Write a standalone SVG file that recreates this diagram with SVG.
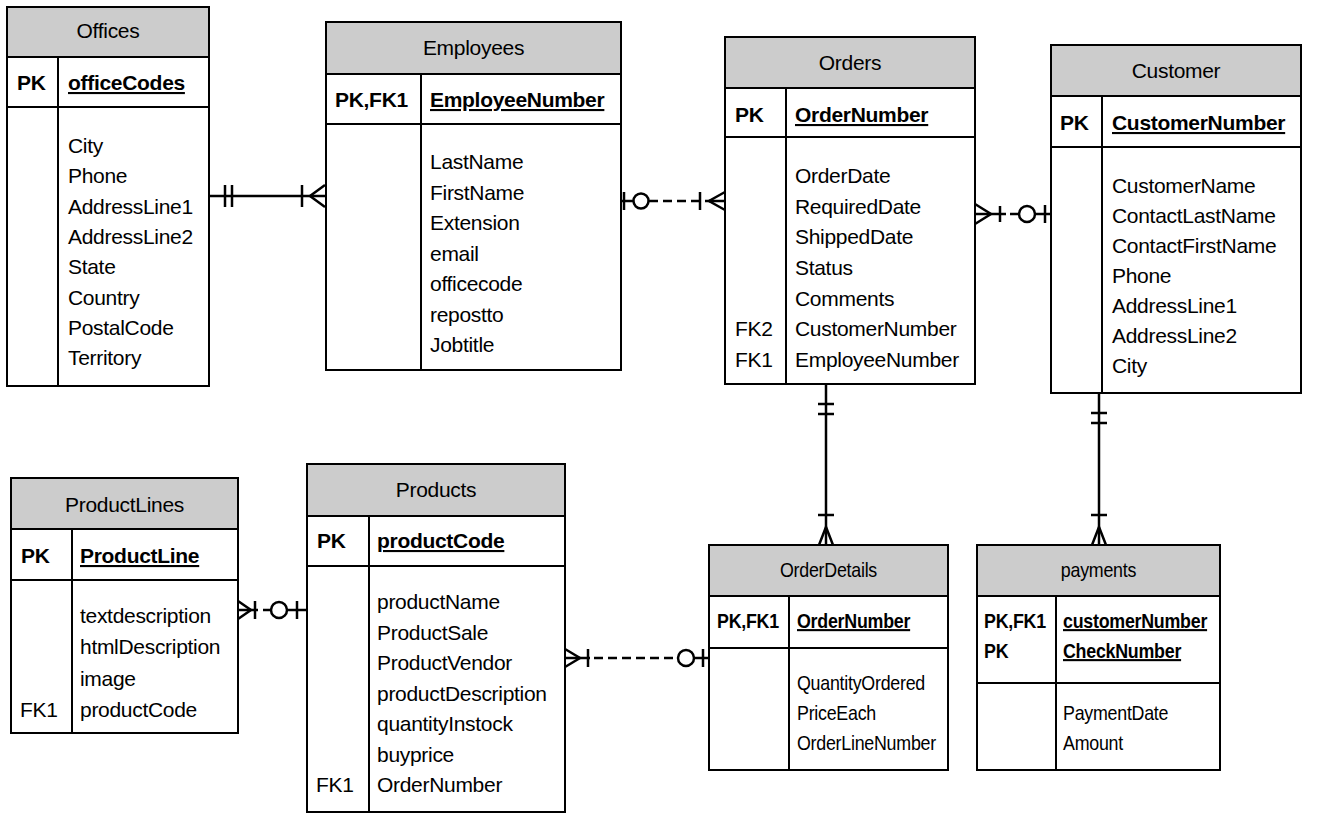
<svg xmlns="http://www.w3.org/2000/svg" width="1322" height="813" viewBox="0 0 1322 813">
  <style>
    text { font-family: "Liberation Sans", Arial, sans-serif; font-size: 21px; fill: #000; letter-spacing: -0.3px; }
    .title { text-anchor: middle; }
    .key { font-weight: bold; }
    .pk { font-weight: bold; text-decoration: underline; }
    .box { fill: #fff; stroke: #000; stroke-width: 2; }
    .hdr { fill: #cccccc; stroke: #000; stroke-width: 2; }
    .sep { stroke: #000; stroke-width: 2; fill: none; }
    .rel { stroke: #000; stroke-width: 2.5; fill: none; }
    .dash { stroke-dasharray: 9 5; }
    .ring { stroke: #000; stroke-width: 2.5; fill: #fff; }
  </style>

  <rect x="0" y="0" width="1322" height="813" fill="#fff"/>

  <!-- Offices -->
  <g id="offices">
    <rect class="box" x="7" y="7" width="202" height="379"/>
    <rect class="hdr" x="7" y="7" width="202" height="50"/>
    <line class="sep" x1="7" y1="107" x2="209" y2="107"/>
    <line class="sep" x1="58" y1="57" x2="58" y2="386"/>
    <text class="title" x="108" y="38">Offices</text>
    <text class="key" x="17" y="90">PK</text>
    <text class="pk" x="68" y="90">officeCodes</text>
    <text x="68" y="153">City</text>
    <text x="68" y="183.3">Phone</text>
    <text x="68" y="213.6">AddressLine1</text>
    <text x="68" y="243.9">AddressLine2</text>
    <text x="68" y="274.2">State</text>
    <text x="68" y="304.5">Country</text>
    <text x="68" y="334.8">PostalCode</text>
    <text x="68" y="365">Territory</text>
  </g>

  <!-- Employees -->
  <g id="employees">
    <rect class="box" x="326" y="22" width="295" height="348"/>
    <rect class="hdr" x="326" y="22" width="295" height="52"/>
    <line class="sep" x1="326" y1="124" x2="621" y2="124"/>
    <line class="sep" x1="421" y1="74" x2="421" y2="370"/>
    <text class="title" x="473.5" y="55">Employees</text>
    <text class="key" x="335" y="107">PK,FK1</text>
    <text class="pk" x="430" y="107">EmployeeNumber</text>
    <text x="430" y="169">LastName</text>
    <text x="430" y="199.5">FirstName</text>
    <text x="430" y="230">Extension</text>
    <text x="430" y="260.5">email</text>
    <text x="430" y="291">officecode</text>
    <text x="430" y="321.5">repostto</text>
    <text x="430" y="352">Jobtitle</text>
  </g>

  <!-- Orders -->
  <g id="orders">
    <rect class="box" x="725" y="37" width="250" height="347"/>
    <rect class="hdr" x="725" y="37" width="250" height="51"/>
    <line class="sep" x1="725" y1="137" x2="975" y2="137"/>
    <line class="sep" x1="786" y1="88" x2="786" y2="384"/>
    <text class="title" x="850" y="70">Orders</text>
    <text class="key" x="735" y="122">PK</text>
    <text class="pk" x="795" y="122">OrderNumber</text>
    <text x="795" y="183">OrderDate</text>
    <text x="795" y="213.7">RequiredDate</text>
    <text x="795" y="244.3">ShippedDate</text>
    <text x="795" y="275">Status</text>
    <text x="795" y="305.7">Comments</text>
    <text x="735" y="336.3">FK2</text>
    <text x="795" y="336.3">CustomerNumber</text>
    <text x="735" y="367">FK1</text>
    <text x="795" y="367">EmployeeNumber</text>
  </g>

  <!-- Customer -->
  <g id="customer">
    <rect class="box" x="1051" y="45" width="250" height="348"/>
    <rect class="hdr" x="1051" y="45" width="250" height="51"/>
    <line class="sep" x1="1051" y1="147" x2="1301" y2="147"/>
    <line class="sep" x1="1102" y1="96" x2="1102" y2="393"/>
    <text class="title" x="1176" y="78">Customer</text>
    <text class="key" x="1060" y="130">PK</text>
    <text class="pk" x="1112" y="130">CustomerNumber</text>
    <text x="1112" y="193">CustomerName</text>
    <text x="1112" y="223">ContactLastName</text>
    <text x="1112" y="253">ContactFirstName</text>
    <text x="1112" y="283">Phone</text>
    <text x="1112" y="313">AddressLine1</text>
    <text x="1112" y="343">AddressLine2</text>
    <text x="1112" y="373">City</text>
  </g>

  <!-- ProductLines -->
  <g id="productlines">
    <rect class="box" x="11" y="478" width="227" height="255"/>
    <rect class="hdr" x="11" y="478" width="227" height="51"/>
    <line class="sep" x1="11" y1="580" x2="238" y2="580"/>
    <line class="sep" x1="72" y1="529" x2="72" y2="733"/>
    <text class="title" x="124.5" y="512">ProductLines</text>
    <text class="key" x="21" y="563">PK</text>
    <text class="pk" x="80" y="563">ProductLine</text>
    <text x="80" y="623">textdescription</text>
    <text x="80" y="654">htmlDescription</text>
    <text x="80" y="686">image</text>
    <text x="20" y="717">FK1</text>
    <text x="80" y="717">productCode</text>
  </g>

  <!-- Products -->
  <g id="products">
    <rect class="box" x="307" y="464" width="258" height="348"/>
    <rect class="hdr" x="307" y="464" width="258" height="52"/>
    <line class="sep" x1="307" y1="566" x2="565" y2="566"/>
    <line class="sep" x1="369" y1="516" x2="369" y2="812"/>
    <text class="title" x="436" y="497">Products</text>
    <text class="key" x="317" y="548">PK</text>
    <text class="pk" x="377" y="548">productCode</text>
    <text x="377" y="609">productName</text>
    <text x="377" y="639.5">ProductSale</text>
    <text x="377" y="670">ProductVendor</text>
    <text x="377" y="700.5">productDescription</text>
    <text x="377" y="731">quantityInstock</text>
    <text x="377" y="761.5">buyprice</text>
    <text x="316" y="792">FK1</text>
    <text x="377" y="792">OrderNumber</text>
  </g>

  <!-- OrderDetails (narrower lettering) -->
  <g id="orderdetails">
    <rect class="box" x="709" y="545" width="239" height="225"/>
    <rect class="hdr" x="709" y="545" width="239" height="51"/>
    <line class="sep" x1="709" y1="648" x2="948" y2="648"/>
    <line class="sep" x1="789" y1="596" x2="789" y2="770"/>
    <text class="title" transform="translate(828.5,577) scale(0.85,1)">OrderDetails</text>
    <text class="key" transform="translate(717,628) scale(0.85,1)">PK,FK1</text>
    <text class="pk" transform="translate(797,628) scale(0.85,1)">OrderNumber</text>
    <text transform="translate(797,690) scale(0.85,1)">QuantityOrdered</text>
    <text transform="translate(797,720) scale(0.85,1)">PriceEach</text>
    <text transform="translate(797,750) scale(0.85,1)">OrderLineNumber</text>
  </g>

  <!-- payments (narrower lettering) -->
  <g id="payments">
    <rect class="box" x="977" y="545" width="243" height="225"/>
    <rect class="hdr" x="977" y="545" width="243" height="51"/>
    <line class="sep" x1="977" y1="683" x2="1220" y2="683"/>
    <line class="sep" x1="1056" y1="596" x2="1056" y2="770"/>
    <text class="title" transform="translate(1098.5,577) scale(0.85,1)">payments</text>
    <text class="key" transform="translate(984,628) scale(0.85,1)">PK,FK1</text>
    <text class="key" transform="translate(984,658) scale(0.85,1)">PK</text>
    <text class="pk" transform="translate(1063,628) scale(0.85,1)">customerNumber</text>
    <text class="pk" transform="translate(1063,658) scale(0.85,1)">CheckNumber</text>
    <text transform="translate(1063,720) scale(0.85,1)">PaymentDate</text>
    <text transform="translate(1063,750) scale(0.85,1)">Amount</text>
  </g>

  <!-- Relationships -->
  <g id="connectors">
    <!-- Offices 1 : N Employees -->
    <g id="rel-offices-employees">
      <line class="rel" x1="209" y1="196" x2="325" y2="196"/>
      <line class="rel" x1="225" y1="185" x2="225" y2="207"/>
      <line class="rel" x1="232" y1="185" x2="232" y2="207"/>
      <line class="rel" x1="302" y1="185" x2="302" y2="207"/>
      <polyline class="rel" points="325,185 310,196 325,207"/>
    </g>

    <!-- Employees 0..1 : N Orders -->
    <g id="rel-employees-orders">
      <line class="rel" x1="621" y1="201" x2="633" y2="201"/>
      <line class="rel" x1="624" y1="192" x2="624" y2="210"/>
      <circle class="ring" cx="641" cy="201" r="7.5"/>
      <line class="rel dash" x1="649" y1="201" x2="710" y2="201"/>
      <line class="rel" x1="700" y1="192" x2="700" y2="210"/>
      <polyline class="rel" points="725,192 709,201 725,210"/>
      <line class="rel" x1="709" y1="201" x2="725" y2="201"/>
    </g>

    <!-- Orders N : 0..1 Customer -->
    <g id="rel-orders-customer">
      <polyline class="rel" points="975,204 991,214 975,224"/>
      <line class="rel" x1="975" y1="214" x2="1006" y2="214"/>
      <line class="rel" x1="1000" y1="206" x2="1000" y2="222"/>
      <line class="rel" x1="1010" y1="214" x2="1019" y2="214"/>
      <circle class="ring" cx="1027" cy="214" r="8"/>
      <line class="rel" x1="1035" y1="214" x2="1051" y2="214"/>
      <line class="rel" x1="1045" y1="205" x2="1045" y2="223"/>
    </g>

    <!-- ProductLines N : 0..1 Products -->
    <g id="rel-productlines-products">
      <polyline class="rel" points="238,601 251,610 238,619"/>
      <line class="rel" x1="238" y1="610" x2="258" y2="610"/>
      <line class="rel" x1="255" y1="601" x2="255" y2="619"/>
      <line class="rel" x1="263" y1="610" x2="271" y2="610"/>
      <circle class="ring" cx="279" cy="610" r="8"/>
      <line class="rel" x1="287" y1="610" x2="307" y2="610"/>
      <line class="rel" x1="297" y1="601" x2="297" y2="619"/>
    </g>

    <!-- Products N : 0..1 OrderDetails -->
    <g id="rel-products-orderdetails">
      <polyline class="rel" points="565,649 580,658 565,667"/>
      <line class="rel" x1="565" y1="658" x2="590" y2="658"/>
      <line class="rel" x1="588" y1="649" x2="588" y2="667"/>
      <line class="rel dash" x1="594" y1="658" x2="678" y2="658"/>
      <circle class="ring" cx="686" cy="658" r="8"/>
      <line class="rel" x1="694" y1="658" x2="709" y2="658"/>
      <line class="rel" x1="703" y1="649" x2="703" y2="667"/>
    </g>

    <!-- Orders 1 : N OrderDetails -->
    <g id="rel-orders-orderdetails">
      <line class="rel" x1="826" y1="384" x2="826" y2="545"/>
      <line class="rel" x1="818" y1="404" x2="834" y2="404"/>
      <line class="rel" x1="818" y1="414" x2="834" y2="414"/>
      <line class="rel" x1="818" y1="515" x2="834" y2="515"/>
      <polyline class="rel" points="819,545 826,527 833,545"/>
    </g>

    <!-- Customer 1 : N payments -->
    <g id="rel-customer-payments">
      <line class="rel" x1="1099" y1="393" x2="1099" y2="545"/>
      <line class="rel" x1="1091" y1="413" x2="1107" y2="413"/>
      <line class="rel" x1="1091" y1="423" x2="1107" y2="423"/>
      <line class="rel" x1="1091" y1="515" x2="1107" y2="515"/>
      <polyline class="rel" points="1092,545 1099,527 1106,545"/>
    </g>
  </g>
</svg>
